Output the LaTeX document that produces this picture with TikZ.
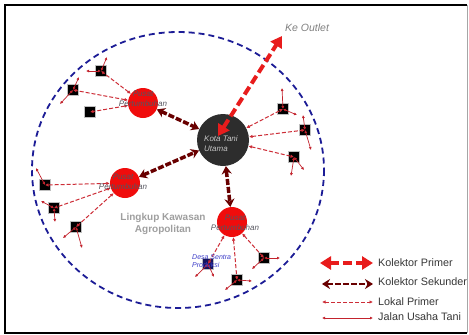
\documentclass[tikz,border=0pt]{standalone}
\usepackage{fontspec}
\setmainfont{Liberation Sans}
\usetikzlibrary{arrows.meta}
\definecolor{kp}{RGB}{232,28,28}
\definecolor{ks}{RGB}{105,0,0}
\definecolor{lp}{RGB}{205,45,55}
\definecolor{jut}{RGB}{195,35,45}
\definecolor{circblue}{RGB}{28,28,150}
\definecolor{ktu}{RGB}{45,45,45}
\definecolor{ppred}{RGB}{240,12,12}
\definecolor{pptext}{RGB}{85,85,95}
\definecolor{desablue}{RGB}{60,60,200}
\definecolor{legtext}{RGB}{55,55,55}
\tikzset{
  kolprim/.style={draw=kp, line width=4pt, dash pattern=on 9pt off 4pt,
    {Triangle[length=11pt,width=13pt]}-{Triangle[length=11pt,width=13pt]}},
  kolsek/.style={draw=ks, line width=3.5pt, dash pattern=on 6pt off 2pt,
    {Stealth[length=8pt,width=10pt]}-{Stealth[length=8pt,width=10pt]}},
  lokal/.style={draw=lp, line width=1pt, dash pattern=on 4pt off 2pt,
    {Latex[length=3.5pt,width=3.5pt]}-{Latex[length=3.5pt,width=3.5pt]}},
  jalan/.style={draw=jut, line width=0.7pt,
    {Latex[length=3pt,width=3pt]}-{Latex[length=3pt,width=3pt]}},
  village/.style={rectangle, fill=black, draw=gray!50, line width=0.6pt,
    minimum size=10.5pt, inner sep=0pt},
  pusat/.style={circle, fill=ppred, minimum size=30pt, inner sep=0pt},
  pptxt/.style={font=\fontsize{8}{9.5}\selectfont\itshape, text=pptext, align=center, inner sep=0pt},
  legtxt/.style={font=\fontsize{10.8}{12}\selectfont, text=legtext, anchor=west, inner sep=0pt},
}
\begin{document}
\begin{tikzpicture}[x=1pt,y=-1pt]
\useasboundingbox (0,0) rectangle (469,335);
\fill[white] (0,0) rectangle (469,335);
% frame
\draw[line width=2.5pt, black] (467,5) -- (5,5) -- (5,333) -- (467,333);
\draw[line width=1pt, gray!70] (467,5) -- (467,333);
% scope boundary
\draw[circblue, line width=1.8pt, dash pattern=on 6pt off 4pt] (178,170) ellipse [x radius=146, y radius=138];

% main nodes
\node[circle, fill=ktu, minimum size=52pt, inner sep=0pt] (kt) at (223,140) {};
\node[pusat] (pp1) at (143,103) {};
\node[pusat] (pp2) at (125,183) {};
\node[pusat] (pp3) at (232,222) {};

% villages
\node[village] (v1a) at (101,71) {};
\node[village] (v1b) at (73,90) {};
\node[village] (v1c) at (90,112) {};
\node[village] (v2a) at (45,185) {};
\node[village] (v2b) at (54,208) {};
\node[village] (v2c) at (76,227) {};
\node[village, fill={rgb,255:red,20;green,20;blue,95}] (v3a) at (208,264) {};
\node[village] (v3b) at (237,280) {};
\node[village] (v3c) at (264,258) {};
\node[village] (v4a) at (283,109) {};
\node[village] (v4b) at (305,130) {};
\node[village] (v4c) at (294,157) {};

% free ends of farm roads
\coordinate (e1a1) at (107,57);  \coordinate (e1a2) at (86,71);
\coordinate (e1b1) at (79,77);   \coordinate (e1b2) at (60,104);
\coordinate (e2a1) at (36,168);
\coordinate (e2b1) at (41,201);  \coordinate (e2b2) at (55,222);
\coordinate (e2c1) at (63,238);  \coordinate (e2c2) at (82,248);
\coordinate (e3a1) at (195,277); \coordinate (e3a2) at (214,277);
\coordinate (e3b1) at (252,281); \coordinate (e3b2) at (225,290);
\coordinate (e3c1) at (280,258); \coordinate (e3c2) at (252,269);
\coordinate (e4a1) at (282,88);  \coordinate (e4a2) at (297,115);
\coordinate (e4b1) at (303,115); \coordinate (e4b2) at (311,150);
\coordinate (e4c1) at (291,176); \coordinate (e4c2) at (304,170);

% lokal primer
\draw[lokal] (pp1) -- (v1a.center);
\draw[lokal] (pp1) -- (v1b.center);
\draw[lokal] (pp1) -- (v1c.center);
\draw[lokal] (pp2) -- (v2a.center);
\draw[lokal] (pp2) -- (v2b.center);
\draw[lokal] (pp2) -- (v2c.center);
\draw[lokal] (pp3) -- (v3a.center);
\draw[lokal] (pp3) -- (v3b.center);
\draw[lokal] (pp3) -- (v3c.center);
\draw[lokal] (kt) -- (v4a.center);
\draw[lokal] (kt) -- (v4b.center);
\draw[lokal] (kt) -- (v4c.center);

% jalan usaha tani
\draw[jalan] (v1a.center) -- (e1a1);
\draw[jalan] (v1a.center) -- (e1a2);
\draw[jalan] (v1b.center) -- (e1b1);
\draw[jalan] (v1b.center) -- (e1b2);
\draw[jalan] (v2a.center) -- (e2a1);
\draw[jalan] (v2b.center) -- (e2b1);
\draw[jalan] (v2b.center) -- (e2b2);
\draw[jalan] (v2c.center) -- (e2c1);
\draw[jalan] (v2c.center) -- (e2c2);
\draw[jalan] (v3a.center) -- (e3a1);
\draw[jalan] (v3a.center) -- (e3a2);
\draw[jalan] (v3b.center) -- (e3b1);
\draw[jalan] (v3b.center) -- (e3b2);
\draw[jalan] (v3c.center) -- (e3c1);
\draw[jalan] (v3c.center) -- (e3c2);
\draw[jalan] (v4a.center) -- (e4a1);
\draw[jalan] (v4a.center) -- (e4a2);
\draw[jalan] (v4b.center) -- (e4b1);
\draw[jalan] (v4b.center) -- (e4b2);
\draw[jalan] (v4c.center) -- (e4c1);
\draw[jalan] (v4c.center) -- (e4c2);

% kolektor sekunder
\draw[kolsek] (pp1) -- (kt);
\draw[kolsek] (pp2) -- (kt);
\draw[kolsek] (kt) -- (pp3);

% kolektor primer to outlet
\coordinate (ktin) at (218,136);
\coordinate (outlet) at (282,36);
\draw[kolprim] (ktin) -- (outlet);

% texts
\node[font=\fontsize{8}{10}\selectfont\itshape, text=gray!45, align=left, anchor=west, inner sep=0pt] (kttxt) at (204,144) {Kota Tani\\Utama};
\node[pptxt] (pp1txt) at (143,99) {Pusat\\Pertumbuhan};
\node[pptxt] (pp2txt) at (123,182) {Pusat\\Pertumbuhan};
\node[pptxt] (pp3txt) at (235,223) {Pusat\\Pertumbuhan};
\node[font=\fontsize{10.5}{12}\selectfont\itshape, text=gray, anchor=west, inner sep=0pt] (outtxt) at (285,28) {Ke Outlet};
\node[font=\fontsize{7}{8.5}\selectfont\itshape, text=desablue, align=left, anchor=west, inner sep=0pt] (desatxt) at (192,261) {Desa Sentra\\Produksi};
\node[font=\fontsize{10}{12}\selectfont\bfseries, text=gray!75, align=center, inner sep=0pt] (lingkup) at (163,224) {Lingkup Kawasan\\Agropolitan};

% legend
\coordinate (l1a) at (320,263); \coordinate (l1b) at (373,263);
\coordinate (l2a) at (322,284); \coordinate (l2b) at (373,284);
\coordinate (l3a) at (322,302); \coordinate (l3b) at (373,302);
\coordinate (l4a) at (322,318); \coordinate (l4b) at (373,318);
\draw[kolprim, line width=3.5pt] (l1a) -- (l1b);
\draw[kolsek, line width=2.5pt] (l2a) -- (l2b);
\draw[lokal] (l3a) -- (l3b);
\draw[jalan] (l4a) -- (l4b);
\node[legtxt] (t1) at (378,263) {Kolektor Primer};
\node[legtxt] (t2) at (378,282) {Kolektor Sekunder};
\node[legtxt] (t3) at (378,302) {Lokal Primer};
\node[legtxt] (t4) at (378,317) {Jalan Usaha Tani};
\end{tikzpicture}
\end{document}
